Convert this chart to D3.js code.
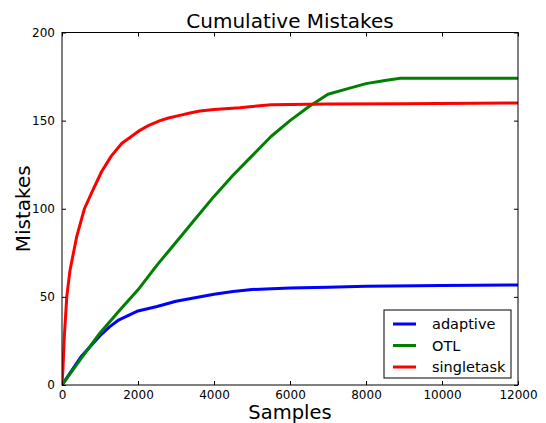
<!DOCTYPE html>
<html>
<head>
<meta charset="utf-8">
<script src="https://cdn.jsdelivr.net/npm/d3@7"></script>
<style>
  body { margin: 0; background: #fff; }
  text { font-family: "DejaVu Sans", sans-serif; fill: #000; }
</style>
</head>
<body>
<div id="chart"></div>
<script>
    // values
    const xTicks = [0, 2000, 4000, 6000, 8000, 10000, 12000];
    const yTicks = [0, 50, 100, 150, 200];
    const seriesNames = ['adaptive', 'OTL', 'singletask'];
    const seriesColors = ['#0000ff', '#008000', '#ff0000'];

    const adaptiveX = [0, 250, 500, 750, 1000, 1250, 1500, 1750, 2000, 2500, 3000, 3500, 4000, 4500, 5000, 6000, 7000, 8000, 10000, 12000];
    const adaptiveY = [0, 8, 16, 22, 28, 33, 37, 39.5, 42, 44.5, 47.5, 49.5, 51.5, 53, 54.2, 55, 55.5, 56, 56.5, 56.7];

    const otlX = [0, 500, 1000, 1500, 2000, 2500, 3000, 3500, 4000, 4500, 5000, 5500, 6000, 6500, 7000, 7500, 8000, 8500, 8900, 10000, 12000];
    const otlY = [0, 15, 29.5, 42, 54, 68, 81, 94, 107, 119, 130, 141, 150, 158, 165, 168, 171, 172.8, 174, 174, 174];

    const singleX = [0, 25, 60, 125, 210, 385, 590, 800, 1040, 1300, 1570, 2050, 2300, 2580, 2800, 3100, 3400, 3630, 4000, 4680, 5000, 5500, 7000, 9000, 12000];
    const singleY = [0, 9, 27, 50, 65, 84, 100, 110, 121, 130, 137, 144.5, 147.5, 150, 151.5, 153, 154.5, 155.5, 156.3, 157.3, 158, 159, 159.4, 159.6, 160];

    const W = 546, H = 423;
    const margin = {left: 62, right: 28, top: 32.5, bottom: 38};
    const pw = W - margin.left - margin.right,
      ph = H - margin.top - margin.bottom;

    const x = d3.scaleLinear().domain([0, 12000]).range([0, pw]);
    const y = d3.scaleLinear().domain([0, 200]).range([ph, 0]);

    const svg = d3.select('#chart').append('svg')
      .attr('width', W).attr('height', H);

    const g = svg.append('g')
      .attr('transform', `translate(${margin.left},${margin.top})`);

    const series = [
      {name: seriesNames[0], color: seriesColors[0], xs: adaptiveX, ys: adaptiveY},
      {name: seriesNames[1], color: seriesColors[1], xs: otlX, ys: otlY},
      {name: seriesNames[2], color: seriesColors[2], xs: singleX, ys: singleY}
    ];

    const line = d3.line()
      .x(d => x(d[0]))
      .y(d => y(d[1]));

    g.append('clipPath').attr('id', 'plotclip')
      .append('rect').attr('width', pw).attr('height', ph);

    g.append('g').attr('clip-path', 'url(#plotclip)')
      .selectAll('path.series')
      .data(series)
      .join('path')
      .attr('class', 'series')
      .attr('fill', 'none')
      .attr('stroke', d => d.color)
      .attr('stroke-width', 3)
      .attr('stroke-linejoin', 'round')
      .attr('d', d => line(d.xs.map((v, i) => [v, d.ys[i]])));

    // axes, matplotlib style: ticks inside on all four sides
    const fmt = d3.format('d');
    const bottomAxis = g.append('g').attr('transform', `translate(0,${ph})`)
      .call(d3.axisBottom(x).tickValues(xTicks).tickFormat(fmt).tickSizeInner(-4).tickSizeOuter(0).tickPadding(5));
    const topAxis = g.append('g')
      .call(d3.axisTop(x).tickValues(xTicks).tickFormat('').tickSizeInner(-4).tickSizeOuter(0));
    const leftAxis = g.append('g')
      .call(d3.axisLeft(y).tickValues(yTicks).tickFormat(fmt).tickSizeInner(-4).tickSizeOuter(0).tickPadding(7));
    const rightAxis = g.append('g').attr('transform', `translate(${pw},0)`)
      .call(d3.axisRight(y).tickValues(yTicks).tickFormat('').tickSizeInner(-4).tickSizeOuter(0));

    [bottomAxis, topAxis, leftAxis, rightAxis].forEach(a => {
      a.select('.domain').remove();
      a.selectAll('line').attr('stroke', '#000');
      a.selectAll('text').style('font-size', '12px').style('font-family', '"DejaVu Sans", sans-serif');
    });

    g.append('rect')
      .attr('width', pw).attr('height', ph)
      .attr('fill', 'none').attr('stroke', '#000').attr('stroke-width', 1);

    svg.append('text')
      .attr('x', margin.left + pw / 2).attr('y', 28)
      .attr('text-anchor', 'middle')
      .style('font-size', '20px')
      .text('Cumulative Mistakes');

    svg.append('text')
      .attr('x', margin.left + pw / 2).attr('y', 418.5)
      .attr('text-anchor', 'middle')
      .style('font-size', '19.5px')
      .text('Samples');

    svg.append('text')
      .attr('transform', `translate(30,${margin.top + ph / 2}) rotate(-90)`)
      .attr('text-anchor', 'middle')
      .style('font-size', '20px')
      .text('Mistakes');

    // legend, lower right
    const lg = g.append('g').attr('transform', `translate(${pw - 134},${ph - 75})`);
    lg.append('rect')
      .attr('width', 127).attr('height', 68)
      .attr('fill', '#fff').attr('stroke', '#000').attr('stroke-width', 1);

    const item = lg.selectAll('g.item')
      .data(series)
      .join('g')
      .attr('class', 'item')
      .attr('transform', (d, i) => `translate(0,${14 + i * 21.5})`);

    item.append('line')
      .attr('x1', 9).attr('x2', 32)
      .attr('stroke', d => d.color).attr('stroke-width', 3);

    item.append('text')
      .attr('x', 48).attr('dy', '0.35em')
      .style('font-size', '14.5px')
      .text(d => d.name);
</script>
</body>
</html>
